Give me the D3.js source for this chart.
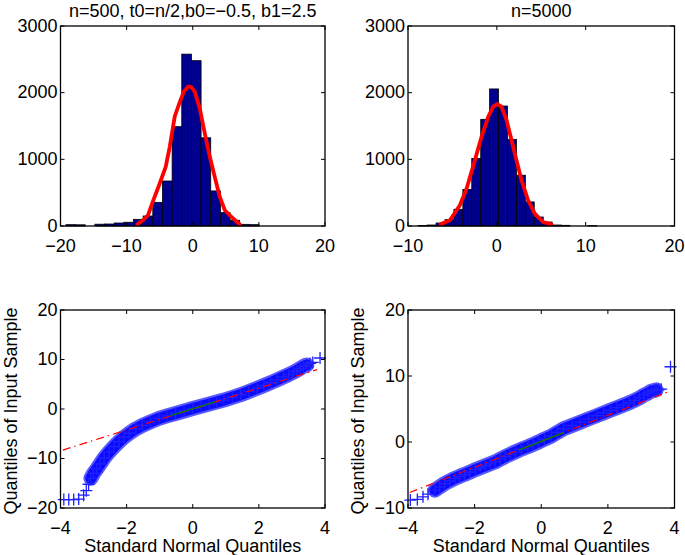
<!DOCTYPE html>
<html><head><meta charset="utf-8">
<script src="https://cdn.jsdelivr.net/npm/d3@7"></script>
<style>body{margin:0;background:#fff}svg{display:block}text{font-family:"Liberation Sans",Arial,sans-serif;fill:#000}</style>
</head><body><svg id="c" width="685" height="555"></svg>
<script>
// ---------- data ----------
const title1 = "n=500, t0=n/2,b0=\u22120.5, b1=2.5";
const title2 = "n=5000";
const xLabel = "Standard Normal Quantiles";
const yLabel = "Quantiles of Input Sample";

// histogram 1 (bin centers, counts)
const hist1Centers = [-18.45,-16.99,-15.53,-14.07,-12.61,-11.15,-9.69,-8.23,-6.77,-5.31,-3.85,-2.39,-0.93,0.53,1.99,3.45,4.91,6.37,7.83,9.29];
const hist1Counts  = [20,18,0,27,30,45,56,100,150,355,675,1490,2578,2480,1323,526,201,86,25,20];
const hist1Width = 1.46;
const curve1X = [-8.38,-7.53,-6.77,-6.11,-5.0,-4.09,-3.48,-2.73,-2.12,-1.36,-0.71,-0.3,0.3,1.06,1.82,2.58,3.33,4.09,4.85,5.86,7.12];
const curve1Y = [25,86,161,346,637,887,1188,1639,1815,2015,2090,2090,2015,1765,1390,1038,737,436,236,135,25];

// histogram 2
const hist2Centers = [-8.35,-7.34,-6.34,-5.33,-4.33,-3.32,-2.32,-1.31,-0.31,0.70,1.70,2.71,3.71,4.72,5.72,6.73,7.73,8.74,9.74,10.75];
const hist2Counts  = [8,15,45,96,251,547,1013,1600,2056,1800,1300,762,361,135,60,15,10,0,0,5];
const hist2Width = 1.005;
const curve2X = [-6.33,-5.28,-4.16,-3.4,-2.47,-1.72,-0.97,-0.41,0.03,0.52,1.09,1.65,2.21,2.78,3.52,4.27,5.2,6.15];
const curve2Y = [25,86,311,562,988,1338,1639,1790,1830,1790,1590,1289,988,687,386,186,60,25];

// QQ plot 1
const qq1X = [-3.9,-3.75,-3.6,-3.45,-3.3,-3.22,-3.15,-3.08,-3.0,-2.9,-2.8,-2.68,-2.53,-2.38,-2.23,-2.08,-1.92,-1.72,-1.52,-1.28,-1.02,-0.78,-0.52,-0.26,0.0,0.25,0.5,0.72,0.94,1.2,1.45,1.7,1.95,2.15,2.35,2.55,2.75,2.9,3.05,3.15,3.25,3.35,3.45,3.55,3.63,3.85];
const qq1Y = [-18.3,-18.3,-18.3,-18.2,-17.4,-16.5,-15.2,-14.0,-13.0,-12.1,-11.1,-9.9,-8.7,-7.6,-6.6,-5.7,-4.9,-4.0,-3.3,-2.6,-1.9,-1.4,-0.9,-0.4,0.1,0.55,1.0,1.4,1.8,2.35,2.9,3.55,4.2,4.75,5.3,5.9,6.5,6.95,7.45,7.8,8.2,8.6,8.9,9.2,9.4,10.3];
const ref1X = [-3.93, 3.76];
const ref1Y = [-8.3, 7.95];
const quart1X = [-0.674, 0.674];
const quart1Y = [-1.35, 1.42];

// QQ plot 2
const qq2X = [-3.93,-3.72,-3.55,-3.4,-3.19,-3.05,-2.9,-2.75,-2.59,-2.45,-2.3,-2.14,-1.98,-1.83,-1.68,-1.53,-1.38,-1.23,-1.08,-0.93,-0.78,-0.6,-0.4,-0.24,-0.08,0.1,0.3,0.48,0.67,0.92,1.17,1.42,1.67,1.87,2.07,2.27,2.47,2.64,2.8,2.95,3.08,3.2,3.3,3.38,3.45,3.53,3.6,3.88];
const qq2Y = [-8.8,-8.7,-8.3,-7.9,-7.3,-6.8,-6.3,-5.9,-5.5,-5.2,-4.9,-4.55,-4.2,-3.9,-3.6,-3.3,-3.0,-2.6,-2.2,-1.85,-1.5,-1.1,-0.7,-0.35,0.0,0.45,0.9,1.45,2.0,2.5,3.0,3.5,4.0,4.4,4.8,5.2,5.6,5.95,6.3,6.7,7.1,7.4,7.7,7.8,7.9,7.95,8.0,11.4];
const ref2X = [-3.95, 3.85];
const ref2Y = [-7.65, 7.68];
const quart2X = [-0.674, 0.674];
const quart2Y = [-1.23, 1.43];

const histXTicks1 = [-20,-10,0,10,20];
const histXTicks2 = [-10,0,10,20];
const histYTicks = [0,1000,2000,3000];
const qqXTicks = [-4,-2,0,2,4];
const qqYTicks1 = [-20,-10,0,10,20];
const qqYTicks2 = [-10,0,10,20];

// ---------- drawing ----------
const svg = d3.select("#c");
const FS = 18;
const fmt = v => (v < 0 ? "\u2212" + Math.abs(v) : String(v));

function frame(g, x, y, xt, yt) {
  const [x0, x1] = x.range(), [y1, y0] = y.range();
  const tl = 4;
  xt.forEach(t => {
    const px = x(t);
    g.append("line").attr("x1", px).attr("x2", px).attr("y1", y1).attr("y2", y1 - tl).attr("stroke", "#000");
    g.append("line").attr("x1", px).attr("x2", px).attr("y1", y0).attr("y2", y0 + tl).attr("stroke", "#000");
    g.append("text").attr("x", px).attr("y", y1 + 25.5).attr("text-anchor", "middle").attr("font-size", FS).text(fmt(t));
  });
  yt.forEach(t => {
    const py = y(t);
    g.append("line").attr("x1", x0).attr("x2", x0 + tl).attr("y1", py).attr("y2", py).attr("stroke", "#000");
    g.append("line").attr("x1", x1).attr("x2", x1 - tl).attr("y1", py).attr("y2", py).attr("stroke", "#000");
    g.append("text").attr("x", x0 - 3).attr("y", py + 5.5).attr("text-anchor", "end").attr("font-size", FS).text(fmt(t));
  });
  g.append("rect").attr("x", x0).attr("y", y0).attr("width", x1 - x0).attr("height", y1 - y0)
    .attr("fill", "none").attr("stroke", "#000").attr("stroke-width", 1.3);
}

function hist(left, right, xd, centers, counts, w, cx, cy, xt, title) {
  const x = d3.scaleLinear().domain(xd).range([left, right]);
  const y = d3.scaleLinear().domain([0, 3000]).range([226, 26]);
  const g = svg.append("g");
  g.selectAll("rect.bar").data(centers).join("rect").attr("class", "bar")
    .attr("x", d => x(d - w / 2)).attr("width", d => x(d + w / 2) - x(d - w / 2))
    .attr("y", (d, i) => y(counts[i])).attr("height", (d, i) => y(0) - y(counts[i]))
    .attr("fill", "#00008f").attr("stroke", "#000").attr("stroke-width", 0.8);
  const line = d3.line().x(i => x(cx[i])).y(i => y(cy[i])).curve(d3.curveLinear);
  g.append("path").attr("d", line(d3.range(cx.length))).attr("fill", "none")
    .attr("stroke", "#ff0000").attr("stroke-width", 3.8).attr("stroke-linejoin", "round").attr("stroke-linecap", "round");
  frame(g, x, y, xt, histYTicks);
  g.append("text").attr("x", (left + right) / 2).attr("y", 17).attr("text-anchor", "middle").attr("font-size", FS).text(title);
}

function qq(left, right, yd, qx, qy, rx, ry, mx, my, yt, bandFrom, bandTo) {
  const x = d3.scaleLinear().domain([-4, 4]).range([left, right]);
  const y = d3.scaleLinear().domain(yd).range([508, 310]);
  const g = svg.append("g");
  const idx = d3.range(qx.length);
  const band = d3.line().x(i => x(qx[i])).y(i => y(qy[i]));
  const inner = idx.slice(bandFrom, bandTo);
  g.append("path").attr("d", band(inner)).attr("fill", "none").attr("stroke", "#5a5aff")
    .attr("stroke-width", 15).attr("stroke-linejoin", "round").attr("stroke-linecap", "round");
  g.append("path").attr("d", band(inner)).attr("fill", "none").attr("stroke", "#0a0aff")
    .attr("stroke-width", 11).attr("stroke-linejoin", "round").attr("stroke-linecap", "round");
  const s = 6;
  g.selectAll("path.m").data(idx).join("path").attr("class", "m")
    .attr("d", i => { const px = x(qx[i]), py = y(qy[i]); return `M${px - s},${py}H${px + s}M${px},${py - s}V${py + s}`; })
    .attr("stroke", "#2020ff").attr("stroke-width", 1.3).attr("fill", "none");
  g.append("path").attr("d", d3.line()([[x(rx[0]), y(ry[0])], [x(rx[1]), y(ry[1])]]))
    .attr("stroke", "#ff0000").attr("stroke-width", 1.2).attr("stroke-dasharray", "8,4,1.5,4").attr("fill", "none");
  g.append("path").attr("d", d3.line()([[x(mx[0]), y(my[0])], [x(mx[1]), y(my[1])]]))
    .attr("stroke", "#008000").attr("stroke-width", 1.3).attr("fill", "none");
  frame(g, x, y, qqXTicks, yt);
  g.append("text").attr("x", (left + right) / 2).attr("y", 552).attr("text-anchor", "middle").attr("font-size", FS).text(xLabel);
  g.append("text").attr("transform", `translate(${left - 44},411) rotate(-90)`).attr("text-anchor", "middle").attr("font-size", FS).text(yLabel);
}

hist(60.5, 325, [-20, 20], hist1Centers, hist1Counts, hist1Width, curve1X, curve1Y, histXTicks1, title1);
hist(408, 674.5, [-10, 20], hist2Centers, hist2Counts, hist2Width, curve2X, curve2Y, histXTicks2, title2);
qq(60.5, 325, [-20, 20], qq1X, qq1Y, ref1X, ref1Y, quart1X, quart1Y, qqYTicks1, 7, -3);
qq(408, 674.5, [-10, 20], qq2X, qq2Y, ref2X, ref2Y, quart2X, quart2Y, qqYTicks2, 4, -3);
</script></body></html>
